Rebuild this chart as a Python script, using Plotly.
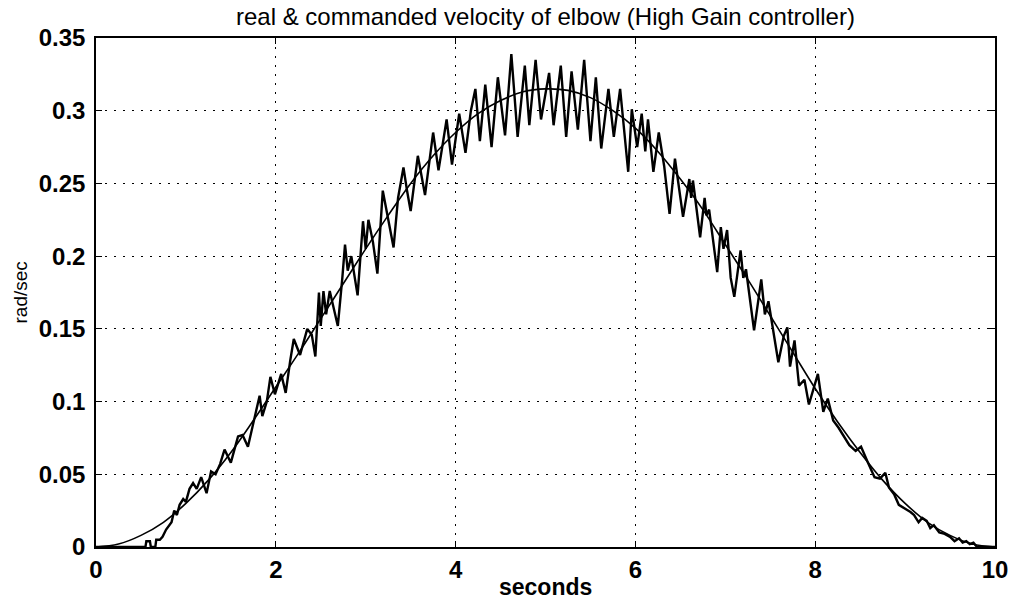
import plotly.graph_objects as go

# Commanded elbow velocity (rad/sec), sampled every 0.25 s
cmd_t = [0.0, 0.25, 0.5, 0.75, 1.0, 1.25, 1.5, 1.75, 2.0, 2.25, 2.5, 2.75, 3.0,
         3.25, 3.5, 3.75, 4.0, 4.25, 4.5, 4.75, 5.0, 5.25, 5.5, 5.75, 6.0, 6.25,
         6.5, 6.75, 7.0, 7.25, 7.5, 7.75, 8.0, 8.25, 8.5, 8.75, 9.0, 9.25, 9.5,
         9.75, 10.0]
cmd_v = [0.0, 0.002, 0.008, 0.017, 0.030, 0.046, 0.065, 0.087, 0.110, 0.133,
         0.157, 0.181, 0.205, 0.228, 0.250, 0.269, 0.285, 0.298, 0.307, 0.313,
         0.315, 0.314, 0.309, 0.300, 0.288, 0.272, 0.253, 0.232, 0.208, 0.184,
         0.159, 0.134, 0.109, 0.086, 0.065, 0.046, 0.030, 0.017, 0.008, 0.002,
         0.0]

# Measured elbow velocity (rad/sec)
real_t = [0.0, 0.55, 0.56, 0.60, 0.61, 0.66, 0.67, 0.71, 0.74, 0.78, 0.84, 0.87,
          0.90, 0.93, 0.97, 1.00, 1.04, 1.08, 1.12, 1.17, 1.23, 1.28, 1.33, 1.38,
          1.43, 1.50, 1.58, 1.63, 1.69, 1.75, 1.82, 1.85, 1.90, 1.94, 1.99, 2.06,
          2.11, 2.16, 2.20, 2.27, 2.35, 2.40, 2.44, 2.48, 2.50, 2.53, 2.56, 2.60,
          2.64, 2.69, 2.74, 2.77, 2.80, 2.84, 2.91, 2.97, 3.00, 3.03, 3.08, 3.13,
          3.19, 3.24, 3.31, 3.36, 3.42, 3.46, 3.50, 3.58, 3.66, 3.75, 3.81, 3.90,
          3.96, 4.04, 4.11, 4.17, 4.22, 4.27, 4.33, 4.40, 4.47, 4.55, 4.62, 4.69,
          4.77, 4.82, 4.89, 4.95, 5.04, 5.09, 5.17, 5.23, 5.29, 5.36, 5.43, 5.50,
          5.56, 5.62, 5.70, 5.76, 5.83, 5.92, 5.96, 6.02, 6.07, 6.11, 6.14, 6.20,
          6.26, 6.32, 6.38, 6.44, 6.48, 6.53, 6.60, 6.62, 6.64, 6.72, 6.77, 6.79,
          6.82, 6.91, 6.95, 6.98, 7.02, 7.06, 7.10, 7.17, 7.20, 7.23, 7.32, 7.40,
          7.44, 7.48, 7.59, 7.65, 7.69, 7.72, 7.77, 7.82, 7.88, 7.93, 8.03, 8.09,
          8.14, 8.20, 8.26, 8.32, 8.38, 8.45, 8.51, 8.58, 8.66, 8.72, 8.78, 8.82,
          8.88, 8.93, 9.01, 9.06, 9.10, 9.15, 9.19, 9.24, 9.28, 9.32, 9.38, 9.44,
          9.50, 9.55, 9.60, 9.64, 9.68, 9.72, 9.76, 9.80, 10.0]
real_v = [0.0, 0.0, 0.004, 0.004, 0.0, 0.0, 0.005, 0.005, 0.007, 0.012, 0.017, 0.025,
          0.022, 0.029, 0.033, 0.031, 0.040, 0.044, 0.040, 0.048, 0.037, 0.052, 0.050, 0.057,
          0.067, 0.058, 0.076, 0.077, 0.069, 0.085, 0.104, 0.090, 0.100, 0.117, 0.105, 0.119,
          0.106, 0.128, 0.143, 0.132, 0.150, 0.146, 0.131, 0.175, 0.152, 0.176, 0.160, 0.176,
          0.165, 0.152, 0.185, 0.208, 0.190, 0.200, 0.173, 0.224, 0.205, 0.225, 0.210, 0.188,
          0.245, 0.228, 0.206, 0.240, 0.261, 0.245, 0.231, 0.269, 0.242, 0.285, 0.259, 0.294,
          0.263, 0.298, 0.271, 0.300, 0.315, 0.279, 0.318, 0.275, 0.323, 0.283, 0.339, 0.282,
          0.331, 0.290, 0.335, 0.294, 0.326, 0.290, 0.331, 0.282, 0.327, 0.287, 0.335, 0.279,
          0.323, 0.274, 0.315, 0.282, 0.315, 0.258, 0.301, 0.275, 0.298, 0.272, 0.294, 0.258,
          0.285, 0.262, 0.229, 0.267, 0.250, 0.227, 0.253, 0.240, 0.252, 0.213, 0.240, 0.228,
          0.232, 0.189, 0.220, 0.205, 0.218, 0.185, 0.172, 0.204, 0.185, 0.191, 0.149, 0.184,
          0.160, 0.169, 0.127, 0.145, 0.151, 0.124, 0.142, 0.111, 0.115, 0.098, 0.119, 0.093,
          0.102, 0.087, 0.082, 0.076, 0.070, 0.066, 0.069, 0.059, 0.048, 0.047, 0.051, 0.041,
          0.036, 0.029, 0.026, 0.024, 0.022, 0.017, 0.020, 0.018, 0.013, 0.015, 0.010, 0.009,
          0.007, 0.004, 0.006, 0.003, 0.004, 0.002, 0.003, 0.0, 0.0]

x_ticks = [0, 2, 4, 6, 8, 10]
y_ticks = [0, 0.05, 0.1, 0.15, 0.2, 0.25, 0.3, 0.35]
y_tick_text = ["0", "0.05", "0.1", "0.15", "0.2", "0.25", "0.3", "0.35"]

FONT = "Liberation Sans, Arial, Helvetica, sans-serif"
W, H = 1020, 600
ML, MR, MT, MB = 96, 20, 38, 53

fig = go.Figure()
fig.add_trace(go.Scatter(x=real_t, y=real_v, mode="lines",
                         line=dict(color="black", width=2.4),
                         name="real", showlegend=False))
fig.add_trace(go.Scatter(x=cmd_t, y=cmd_v, mode="lines",
                         line=dict(color="black", width=1.6, shape="spline"),
                         name="commanded", showlegend=False))

axis_common = dict(
    showline=True, linecolor="black", linewidth=1.5, mirror="ticks",
    ticks="inside", ticklen=6, tickcolor="black", tickwidth=1.2,
    showgrid=True, gridcolor="black", gridwidth=1, griddash="2px,7px",
    zeroline=False,
    tickfont=dict(family=FONT, size=24, color="black", weight="bold"),
)

fig.update_layout(
    width=W, height=H,
    margin=dict(l=ML, r=MR, t=MT, b=MB),
    paper_bgcolor="white", plot_bgcolor="white",
    xaxis=dict(range=[0, 10], tickvals=x_ticks, ticklabelstandoff=0, **axis_common),
    yaxis=dict(range=[0, 0.35], tickvals=y_ticks, ticktext=y_tick_text,
               ticklabelstandoff=4, **axis_common),
)

# Title and axis labels placed as annotations (pixel offsets from the plot area)
fig.add_annotation(text="real & commanded velocity of elbow (High Gain controller)",
                   xref="paper", yref="paper", x=0.5, y=1.0,
                   xanchor="center", yanchor="middle", yshift=(MT - 16),
                   showarrow=False,
                   font=dict(family=FONT, size=24, color="black"))
fig.add_annotation(text="seconds", xref="paper", yref="paper", x=0.5, y=0.0,
                   xanchor="center", yanchor="middle", yshift=-(587 - (H - MB)),
                   showarrow=False,
                   font=dict(family=FONT, size=23, color="black", weight="bold"))
fig.add_annotation(text="rad/sec", xref="paper", yref="paper", x=0.0, y=0.5,
                   xanchor="center", yanchor="middle", xshift=-(ML - 20),
                   textangle=-90, showarrow=False,
                   font=dict(family=FONT, size=19, color="black"))

fig.write_html("out.html")
